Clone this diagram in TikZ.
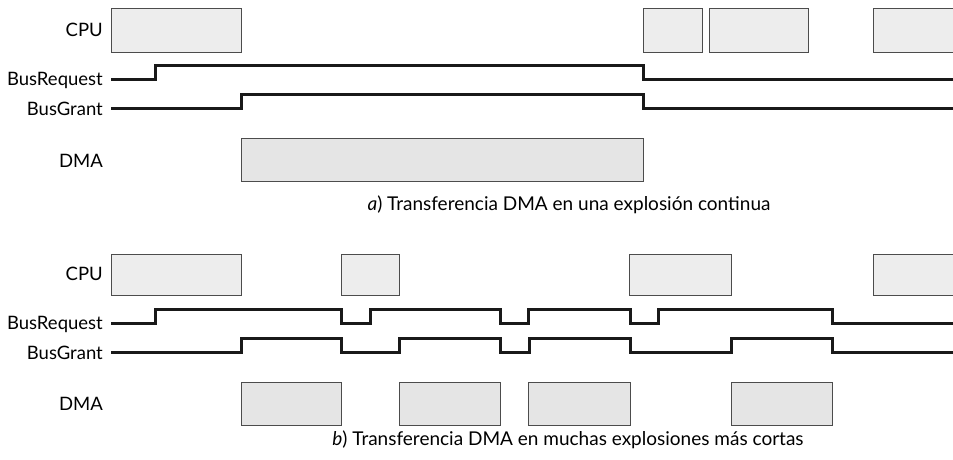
\documentclass[tikz,border=0pt]{standalone}
\usepackage{fontspec}
\setmainfont{Lato}
\begin{document}
\begin{tikzpicture}[x=1pt,y=1pt,
  lbl/.style={font=\fontsize{18.5}{20}\selectfont, inner xsep=8pt, inner ysep=0pt, anchor=east},
  captext/.style={font=\fontsize{19}{21}\selectfont, inner sep=0pt},
  cpubox/.style={draw=black!70, line width=1.2pt, fill=black!7, anchor=north west, inner sep=0pt},
  dmabox/.style={draw=black!70, line width=1.2pt, fill=black!10, anchor=north west, inner sep=0pt},
  wave/.style={line width=3pt, black!90, line join=miter}]
\useasboundingbox (0,0) rectangle (953,460);
% ---------- a) ----------
\node[lbl] (cpuA) at (111,430) {CPU};
\node[lbl] (reqA) at (111,380) {BusRequest};
\node[lbl] (grA) at (111,351) {BusGrant};
\node[lbl] (dmaA) at (111,299) {DMA};
\node[cpubox, minimum width=130, minimum height=44] (ca1) at (111,452) {};
\node[cpubox, minimum width=59, minimum height=44] (ca2) at (643,452) {};
\node[cpubox, minimum width=99, minimum height=44] (ca3) at (709,452) {};
\node[cpubox, minimum width=85, minimum height=44] (ca4) at (873,452) {};
\node[dmabox, minimum width=402, minimum height=43] (da1) at (241,322) {};
\coordinate (reqAend) at (953,380);
\coordinate (grAend) at (953,351);
\draw[wave] (reqA.east) -- (155,380) -- (155,394) -- (643,394) -- (643,380) -- (reqAend);
\draw[wave] (grA.east) -- (241,351) -- (241,365) -- (643,365) -- (643,351) -- (grAend);
\node[captext] (capA) at (569,255) {\textit{a}) Transferencia DMA en una explosión continua};
% ---------- b) ----------
\node[lbl] (cpuB) at (111,186) {CPU};
\node[lbl] (reqB) at (111,136) {BusRequest};
\node[lbl] (grB) at (111,107) {BusGrant};
\node[lbl] (dmaB) at (111,56) {DMA};
\node[cpubox, minimum width=130, minimum height=41] (cb1) at (111,206) {};
\node[cpubox, minimum width=58, minimum height=41] (cb2) at (341,206) {};
\node[cpubox, minimum width=102, minimum height=41] (cb3) at (629,206) {};
\node[cpubox, minimum width=85, minimum height=41] (cb4) at (873,206) {};
\node[dmabox, minimum width=100, minimum height=43] (db1) at (241,78) {};
\node[dmabox, minimum width=101, minimum height=43] (db2) at (399,78) {};
\node[dmabox, minimum width=102, minimum height=43] (db3) at (528,78) {};
\node[dmabox, minimum width=101, minimum height=43] (db4) at (731,78) {};
\coordinate (reqBend) at (953,136);
\coordinate (grBend) at (953,107);
\draw[wave] (reqB.east) -- (155,136) -- (155,150) -- (341,150) -- (341,136)
  -- (370,136) -- (370,150) -- (500,150) -- (500,136) -- (528,136) -- (528,150)
  -- (630,150) -- (630,136) -- (658,136) -- (658,150) -- (832,150) -- (832,136) -- (reqBend);
\draw[wave] (grB.east) -- (241,107) -- (241,121) -- (341,121) -- (341,107)
  -- (399,107) -- (399,121) -- (500,121) -- (500,107) -- (529,107) -- (529,121)
  -- (630,121) -- (630,107) -- (731,107) -- (731,121) -- (832,121) -- (832,107) -- (grBend);
\node[captext] (capB) at (568,20) {\textit{b}) Transferencia DMA en muchas explosiones más cortas};
\end{tikzpicture}
\end{document}
